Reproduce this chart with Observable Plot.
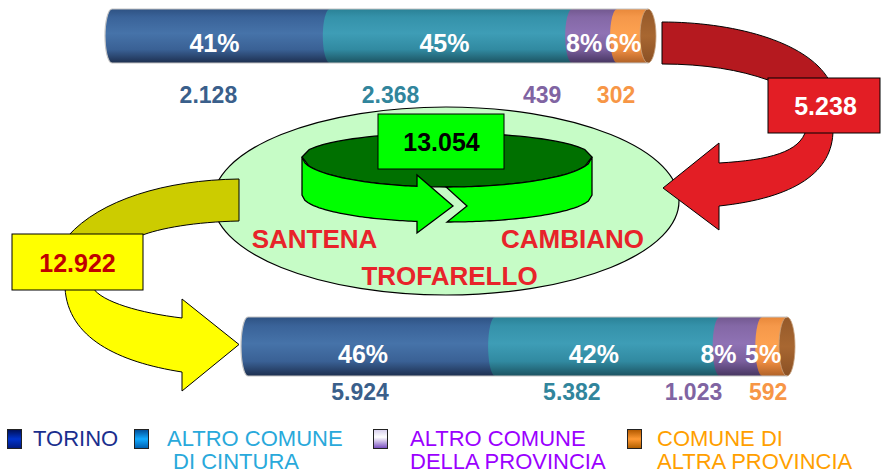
<!DOCTYPE html>
<html><head><meta charset="utf-8">
<script src="https://cdn.jsdelivr.net/npm/d3@7"></script>
<script src="https://cdn.jsdelivr.net/npm/@observablehq/plot@0.6"></script>
<style>
body{margin:0;background:#fff;font-family:"Liberation Sans",Arial,sans-serif;}
#wrap{position:relative;width:883px;height:475px;overflow:hidden;background:#fff;}
#legend{position:absolute;left:0;top:420px;width:883px;height:55px;}
.sw{position:absolute;top:9px;width:13px;height:18px;border:1px solid #222;box-sizing:content-box;}
.lt{position:absolute;top:7px;font-size:22px;line-height:23px;white-space:pre;}
</style></head><body>
<div id="wrap"><div id="chart"></div><div id="legend"></div></div>
<script>
// ---------- data ----------
const categories = ["TORINO", "ALTRO COMUNE DI CINTURA", "ALTRO COMUNE DELLA PROVINCIA", "COMUNE DI ALTRA PROVINCIA"];
const legendLines = [["TORINO"], ["ALTRO COMUNE", " DI CINTURA"], ["ALTRO COMUNE", "DELLA PROVINCIA"], ["COMUNE DI", "ALTRA PROVINCIA"]];
const outgoingValues = [2128, 2368, 439, 302];   // upper cylinder
const incomingValues = [5924, 5382, 1023, 592];  // lower cylinder
const outgoingTotal = 5238;
const incomingTotal = 12922;
const internalTotal = 13054;
const towns = ["SANTENA", "CAMBIANO", "TROFARELLO"];

// ---------- styles / layout ----------
const FONT = '"Liberation Sans", Arial, sans-serif';
const W = 883, H = 420;
const catGrad = ["gT", "gC", "gP", "gO"];
const valueColors = ["#3a5f8b", "#31859c", "#8064a2", "#f79646"];
const legendText = ["#1b2f8e", "#29a9db", "#9b00ff", "#ff9f00"];
const legendSwatch = [
  "linear-gradient(#00115a,#0033cc 50%,#001a80)",
  "linear-gradient(#00509a,#12aaff 50%,#0060b0)",
  "linear-gradient(#d9d0ee,#ffffff 40%,#7a50c0)",
  "linear-gradient(#b35a00,#ff9933 50%,#b36000)"
];
const swatchLeft = [7, 134, 373, 627];
const textLeft = [33, 167, 410, 657];

const RX = 7;
const barLayouts = [
  {values: outgoingValues, left: 112, len: 536, top: 9, bottom: 63, pctY: 43, valY: 95,
   pctDx: [0, 0, -4, -3], valDx: [-6, -54, -46, -10]},
  {values: incomingValues, left: 248, len: 539, top: 317, bottom: 376, pctY: 354, valY: 392,
   pctDx: [-2, -7, -16, -5], valDx: [-5, -29, -41, 0]}
];

const fmtIT = d3.formatLocale({decimal: ",", thousands: ".", grouping: [3], currency: ["", "€"]}).format(",d");

function segments(L, b) {
  const total = d3.sum(L.values);
  let cum = 0;
  return L.values.map((v, i) => {
    const x1 = L.left + cum / total * L.len; cum += v;
    const x2 = L.left + cum / total * L.len;
    const xc = (x1 + x2) / 2 - RX;
    return {bar: b, i, cat: categories[i], value: v, pct: Math.round(v / total * 100) + "%",
      x1, x2, y1: L.top, y2: L.bottom, pctX: xc + L.pctDx[i], pctY: L.pctY,
      valX: xc + L.valDx[i], valY: L.valY, fill: `url(#${catGrad[i]})`, color: valueColors[i]};
  });
}
const segs = barLayouts.flatMap((L, b) => segments(L, b));

// ---------- decoration geometry ----------
const ring = {cx: 447, rx: 145, sideTop: 157, sideBot: 195, ryUp: 24, ryRim: 30, ryBot: 27};
function arc(cy, ry, xa, xb, sign) {
  const pts = [], n = 40;
  for (let k = 0; k <= n; k++) {
    const x = xa + (xb - xa) * k / n;
    const t = (x - ring.cx) / ring.rx;
    pts.push(["L", [x, cy + sign * ry * Math.sqrt(Math.max(0, 1 - t * t))]]);
  }
  return pts;
}
const rimLow = x => ring.sideTop + ring.ryRim * Math.sqrt(1 - ((x - ring.cx) / ring.rx) ** 2);
const botLow = x => ring.sideBot + ring.ryBot * Math.sqrt(1 - ((x - ring.cx) / ring.rx) ** 2);
const L0 = ring.cx - ring.rx, R0 = ring.cx + ring.rx;

const shapes = [
  {type: "ellipse", cx: 446, cy: 201, rx: 233, ry: 94, fill: "#c6fcc6", sw: 1.2},
  // ring back (dark)
  {d: [["M", [L0, ring.sideTop]], ...arc(ring.sideTop, ring.ryUp, L0, R0, -1), ...arc(ring.sideTop, ring.ryRim, R0, L0, 1), ["Z"]], fill: "#007000", sw: 1.3},
  // ring front, left part with arrow head
  {d: [["M", [L0, ring.sideTop]], ...arc(ring.sideTop, ring.ryRim, L0, 417, 1), ["L", [417, 175]], ["L", [453, 206]], ["L", [417, 233]],
       ["L", [417, botLow(417)]], ...arc(ring.sideBot, ring.ryBot, 417, L0, 1), ["Z"]], fill: "#00ff00", sw: 1.3},
  // ring front, right part with notch
  {d: [["M", [446, rimLow(446)]], ...arc(ring.sideTop, ring.ryRim, 446, R0, 1), ["L", [R0, ring.sideBot]],
       ...arc(ring.sideBot, ring.ryBot, R0, 447, 1), ["L", [467, 206]], ["Z"]], fill: "#00ff00", sw: 1.3},
  {type: "rect", x: 378, y: 114, w: 126, h: 55, fill: "#00ff00", sw: 1},
  // red curved arrow
  {d: [["M", [662, 22]], ["C", [730, 22], [806, 40], [829, 80]], ["L", [768, 80]], ["C", [740, 70], [705, 64], [662, 64]], ["Z"]], fill: "#b5191f", sw: 1},
  {d: [["M", [806, 130]], ["C", [800, 152], [770, 160], [719, 163]], ["L", [719, 143]], ["L", [663, 188]], ["L", [719, 230]], ["L", [719, 206]],
       ["C", [795, 198], [833, 172], [833, 130]], ["Z"]], fill: "#e31e25", sw: 1},
  {type: "rect", x: 768, y: 78, w: 112, h: 55, fill: "#e31e25", sw: 1},
  // yellow curved arrow
  {d: [["M", [239, 179]], ["L", [239, 221]], ["C", [195, 222], [160, 228], [140, 236]], ["L", [68, 236]], ["C", [100, 200], [165, 180], [239, 179]], ["Z"]], fill: "#cccc00", sw: 1},
  {d: [["M", [65, 288]], ["C", [68, 338], [118, 362], [182, 372]], ["L", [182, 391]], ["L", [239, 344.5]], ["L", [182, 299]], ["L", [182, 318]],
       ["C", [140, 313], [102, 302], [93, 288]], ["Z"]], fill: "#ffff00", sw: 1},
  {type: "rect", x: 12, y: 234, w: 131, h: 56, fill: "#ffff00", sw: 1}
];

function shapeMark(list) {
  return (index, scales) => {
    const X = scales.x, Y = scales.y;
    const g = d3.create("svg:g");
    for (const s of list) {
      let el;
      if (s.type === "ellipse") {
        el = g.append("ellipse").attr("cx", X(s.cx)).attr("cy", Y(s.cy))
          .attr("rx", Math.abs(X(s.cx + s.rx) - X(s.cx))).attr("ry", Math.abs(Y(s.cy + s.ry) - Y(s.cy)));
      } else if (s.type === "rect") {
        el = g.append("rect").attr("x", X(s.x)).attr("y", Y(s.y))
          .attr("width", X(s.x + s.w) - X(s.x)).attr("height", Y(s.y + s.h) - Y(s.y));
      } else {
        const d = s.d.map(([c, ...p]) => c + p.map(([x, y]) => X(x) + "," + Y(y)).join(" ")).join("");
        el = g.append("path").attr("d", d).attr("stroke-linejoin", "miter");
      }
      el.attr("fill", s.fill).attr("stroke", s.stroke ?? "#000").attr("stroke-width", s.sw ?? 1);
    }
    return g.node();
  };
}

// cylinder caps, drawn from the data segments through the scales
function capMark(index, scales) {
  const X = scales.x, Y = scales.y;
  const g = d3.create("svg:g");
  for (const d of segs) {
    g.append("ellipse").attr("cx", X(d.x1)).attr("cy", Y((d.y1 + d.y2) / 2))
      .attr("rx", RX).attr("ry", (Y(d.y2) - Y(d.y1)) / 2).attr("fill", d.fill);
  }
  for (let b = 0; b < barLayouts.length; b++) {
    const s = segs.filter(d => d.bar === b);
    const first = s[0], last = s[s.length - 1];
    const cy = Y((last.y1 + last.y2) / 2), ry = (Y(last.y2) - Y(last.y1)) / 2;
    g.append("ellipse").attr("cx", X(last.x2)).attr("cy", cy).attr("rx", RX + 1).attr("ry", ry)
      .attr("fill", "url(#gCap)").attr("stroke", "#c9a27e").attr("stroke-width", 0.8);
    const xl = X(first.x1), xr = X(last.x2);
    g.append("path").attr("fill", "none").attr("stroke", "#c4c4c4").attr("stroke-width", 1.2)
      .attr("d", `M${xr},${cy - ry}L${xl},${cy - ry}A${RX},${ry} 0 0 0 ${xl},${cy + ry}L${xr},${cy + ry}`);
  }
  return g.node();
}

function defsMark() {
  const defs = d3.create("svg:defs");
  const grads = {
    gT: [[0, "#2e5283"], [0.15, "#3a6399"], [0.45, "#4673a9"], [0.75, "#3a6195"], [1, "#1d2f4f"]],
    gC: [[0, "#2a8196"], [0.15, "#3592aa"], [0.45, "#3e9db6"], [0.75, "#318aa1"], [1, "#1c5361"]],
    gP: [[0, "#72588f"], [0.15, "#8468a6"], [0.45, "#8f72b4"], [0.75, "#7a5f9d"], [1, "#463560"]],
    gO: [[0, "#e8883a"], [0.15, "#f5984a"], [0.45, "#fda150"], [0.75, "#f08e42"], [1, "#b06228"]],
    gCap: [[0, "#94592a"], [0.5, "#a86731"], [1, "#8a5024"]]
  };
  for (const [id, stops] of Object.entries(grads)) {
    const lg = defs.append("linearGradient").attr("id", id).attr("x1", 0).attr("y1", 0).attr("x2", 0).attr("y2", 1);
    for (const [o, c] of stops) lg.append("stop").attr("offset", o).attr("stop-color", c);
  }
  return defs.node();
}

const boxLabels = [
  {text: fmtIT(outgoingTotal), x: 825, y: 106, fill: "#ffffff"},
  {text: fmtIT(incomingTotal), x: 77, y: 263, fill: "#c00000"},
  {text: fmtIT(internalTotal), x: 441, y: 142, fill: "#000000"}
];
const townPos = [{x: 314, y: 239}, {x: 572, y: 239}, {x: 449, y: 276}];
const townData = towns.map((t, i) => ({text: t, ...townPos[i]}));

const chart = Plot.plot({
  width: W, height: H, margin: 0,
  x: {domain: [0, W], range: [0, W], axis: null},
  y: {domain: [0, H], range: [0, H], axis: null},
  color: {type: "identity"},
  style: {fontFamily: FONT, background: "white"},
  marks: [
    defsMark,
    shapeMark(shapes),
    Plot.rect(segs, {x1: "x1", x2: "x2", y1: "y1", y2: "y2", fill: "fill"}),
    capMark,
    Plot.text(segs, {x: "pctX", y: "pctY", text: "pct", fill: "white", fontSize: 25, fontWeight: "bold", fontFamily: FONT}),
    Plot.text(segs, {x: "valX", y: "valY", text: d => fmtIT(d.value), fill: "color", fontSize: 23, fontWeight: "bold", fontFamily: FONT}),
    Plot.text(boxLabels, {x: "x", y: "y", text: "text", fill: "fill", fontSize: 25, fontWeight: "bold", fontFamily: FONT}),
    Plot.text(townData, {x: "x", y: "y", text: "text", fill: "#e8232a", fontSize: 26, fontWeight: "bold", fontFamily: FONT})
  ]
});
document.getElementById("chart").appendChild(chart);

// legend
const leg = document.getElementById("legend");
categories.forEach((c, i) => {
  const sw = document.createElement("div");
  sw.className = "sw";
  sw.style.left = swatchLeft[i] + "px";
  sw.style.background = legendSwatch[i];
  leg.appendChild(sw);
  const t = document.createElement("div");
  t.className = "lt";
  t.style.left = textLeft[i] + "px";
  t.style.color = legendText[i];
  t.textContent = legendLines[i].join("\n");
  leg.appendChild(t);
});
</script>
</body></html>
